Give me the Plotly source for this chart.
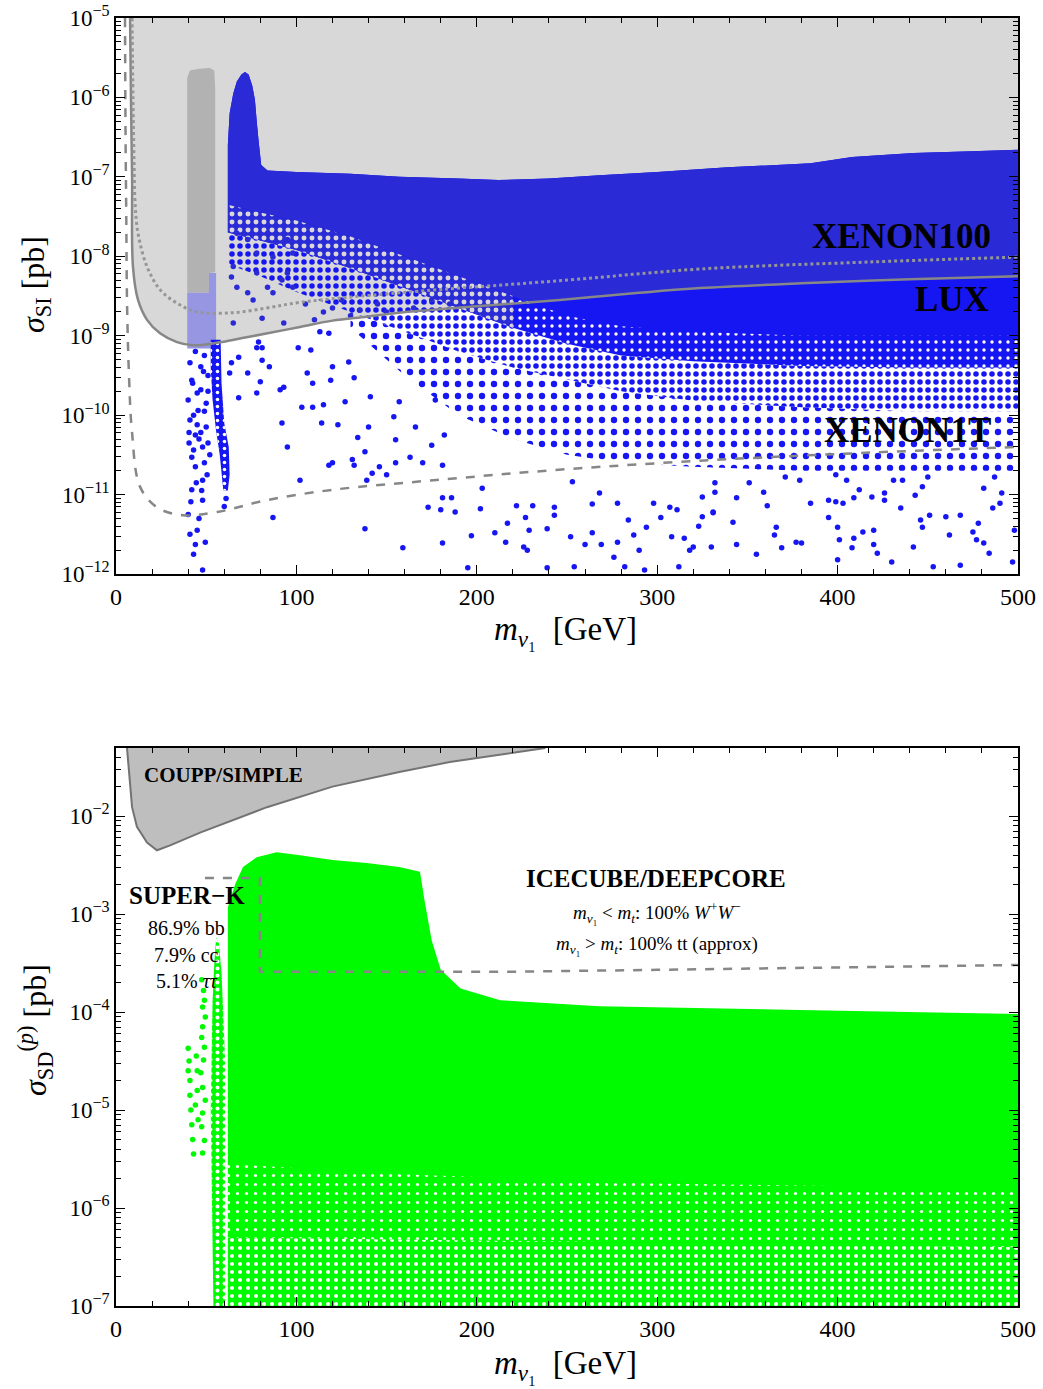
import plotly.graph_objects as go

# ---------------- data (x in GeV, cross sections as log10 of pb) ----------------
# top panel: limit curves
lux_x = [7.8, 8.3, 8.9, 9.4, 12.2, 17.2, 24.4, 33.8, 42.7, 56, 70, 84, 102, 120, 139, 157, 200, 246, 290, 324, 380, 440, 500]
lux_log = [-5.0, -6.0, -7.0, -8.13, -8.55, -8.80, -8.97, -9.08, -9.12, -9.09, -9.03, -8.97, -8.89, -8.81, -8.76, -8.71, -8.63, -8.55, -8.46, -8.40, -8.34, -8.29, -8.25]
x100_x = [8.9, 9.4, 10.0, 10.5, 12.2, 17.2, 24.4, 33.8, 44.9, 64.9, 83.7, 102, 157, 250, 324, 420, 500]
x100_log = [-5.0, -6.0, -6.8, -7.29, -7.71, -8.13, -8.42, -8.59, -8.70, -8.71, -8.65, -8.58, -8.46, -8.30, -8.16, -8.07, -8.01]
x1t_x = [5.0, 5.3, 5.7, 6.1, 7.2, 8.9, 13.3, 22.7, 37, 56, 83.7, 120, 176, 250, 335, 420, 500]
x1t_log = [-5.0, -6.5, -7.5, -8.55, -9.5, -10.22, -10.90, -11.16, -11.26, -11.22, -11.07, -10.94, -10.82, -10.68, -10.56, -10.47, -10.40]

# top panel: envelopes of the scan regions (dense -> sparse)
dense_top_x = [62, 62, 63, 65, 67, 69.5, 71.5, 73.5, 75.5, 77, 78, 79, 80.5, 84, 100, 130, 157, 190, 212, 240, 268, 300, 339, 385, 408, 442, 470, 500]
dense_top_log = [-7.35, -6.6, -6.2, -5.95, -5.8, -5.71, -5.68, -5.71, -5.85, -6.03, -6.3, -6.54, -6.85, -6.92, -6.94, -6.96, -7.0, -7.02, -7.04, -7.02, -6.98, -6.94, -6.88, -6.83, -6.75, -6.70, -6.68, -6.66]
dense_low_x = [62, 80, 100, 130, 160, 190, 220, 250, 280, 320, 380, 440, 500]
dense_low_log = [-7.35, -7.45, -7.55, -7.75, -8.0, -8.25, -8.5, -8.75, -8.88, -8.95, -9.0, -9.0, -9.0]
dark_low_x = [62, 80, 100, 130, 160, 190, 220, 228, 246, 290, 324, 380, 440, 500]
dark_low_log = [-7.35, -7.45, -7.55, -7.75, -8.0, -8.25, -8.5, -8.58, -8.55, -8.46, -8.40, -8.34, -8.29, -8.25]
mid1_low_x = [62, 80, 100, 130, 160, 190, 220, 250, 280, 320, 380, 440, 500]
mid1_low_log = [-7.7, -7.8, -7.92, -8.15, -8.4, -8.65, -8.9, -9.1, -9.25, -9.32, -9.38, -9.4, -9.4]
mid2_low_x = [62, 80, 100, 130, 160, 190, 220, 250, 280, 320, 380, 440, 500]
mid2_low_log = [-8.1, -8.25, -8.45, -8.7, -8.95, -9.2, -9.4, -9.55, -9.7, -9.82, -9.9, -9.95, -9.95]
sparse_top_x = [130, 160, 190, 220, 250, 280, 320, 380, 440, 500]
sparse_top_log = [-8.7, -8.95, -9.2, -9.4, -9.55, -9.7, -9.82, -9.9, -9.95, -9.95]
sparse_low_log = [-8.9, -9.5, -10.0, -10.3, -10.5, -10.6, -10.65, -10.7, -10.7, -10.7]

# top panel: low-mass columns
gray_col_x = [39.5, 39.5, 41, 46, 52, 54.5, 55, 55, 51.5, 51.5]
gray_col_log = [-8.46, -5.75, -5.66, -5.64, -5.63, -5.66, -5.9, -8.2, -8.21, -8.46]
lav_col_x = [39.5, 51.5, 51.5, 55.5, 55.5, 39.5]
lav_col_log = [-8.46, -8.46, -8.21, -8.21, -9.16, -9.16]
streak_x = [52.5, 58.0, 58.5, 60, 62.5, 63, 62, 59.5, 57.5, 55.5, 53.5, 52.5]
streak_log = [-9.05, -9.05, -9.6, -10.1, -10.4, -10.75, -10.95, -10.95, -10.5, -10.2, -9.8, -9.4]

# top panel: individual points
dark_pts_x = [65, 65, 64, 67, 73, 78, 84, 87, 95, 98, 92, 76, 81, 93, 87, 98, 78, 73, 67, 84, 95,
              105, 115, 125, 135, 145, 110, 130, 150, 165, 175, 185, 120]
dark_pts_log = [-8.84, -8.13, -8.26, -8.39, -8.46, -8.21, -8.39, -8.46, -8.21, -8.39, -8.30, -8.55, -8.78, -8.84, -8.01, -7.96, -7.96, -7.79, -7.71, -7.71, -7.79,
                -8.6, -8.7, -8.55, -8.68, -8.6, -8.8, -8.75, -8.7, -8.65, -8.55, -8.6, -8.65]
blue_pts_x = [79, 78, 81, 81, 68, 64, 63, 73, 80, 68, 78, 85, 91, 93, 92, 95, 87, 102, 103, 109, 108, 113, 118, 101, 106, 109, 114, 115, 119, 120,
              123, 118, 120, 127, 129, 132, 131, 132, 134, 139, 138, 140, 141, 138, 142, 146, 150, 155, 155, 157, 154, 159, 163, 166, 170, 175, 181, 181, 180, 181, 182, 177,
              173, 186, 188, 202, 203, 197, 195, 210, 216, 217, 222, 227, 229, 226, 228, 231, 239, 239, 243, 243, 252, 253, 254, 260, 264, 264, 268, 269,
              276, 278, 278, 282, 284, 287, 290, 293, 294, 298, 302, 308, 307, 311, 312, 315, 318, 320, 323, 325, 330, 331, 332,
              344, 355, 366, 365, 369, 377, 380, 385, 379, 371, 361, 351, 356, 359, 342, 332, 331, 325, 344, 395, 400, 401, 400, 409, 408, 414, 420, 420,
              422, 430, 426, 435, 419, 409, 403, 399, 395, 399, 405, 412, 426, 431, 436, 442, 443, 447, 450, 446, 447, 451, 453, 460, 462, 468, 468,
              475, 478, 477, 481, 484, 486, 481, 490, 491, 487, 497, 498]
blue_pts_log = [-9.08, -9.15, -9.15, -9.31, -9.27, -9.34, -9.47, -9.47, -9.58, -9.78, -9.72, -9.39, -9.68, -9.65, -10.10, -10.40, -11.29, -10.82, -9.90, -9.60, -9.18, -8.95, -8.97, -9.15, -9.47, -9.90, -10.10, -9.87, -9.56, -9.39,
                -10.12, -10.63, -10.60, -9.83, -9.33, -9.53, -10.56, -10.63, -10.28, -10.82, -10.46, -10.15, -9.77, -11.43, -10.73, -10.65, -10.75, -10.31, -10.60, -9.83, -10.02, -11.67, -10.53, -10.15, -10.60, -10.38, -10.63, -11.04, -11.19, -11.61, -10.25, -9.81,
                -11.16, -11.04, -11.22, -11.18, -10.92, -11.52, -11.92, -11.48, -11.60, -11.36, -11.14, -11.29, -11.45, -11.66, -11.70, -11.14, -11.43, -11.92, -11.16, -11.26, -11.53, -10.84, -11.91, -11.63, -11.12, -11.48, -10.98, -11.63,
                -11.79, -11.11, -11.60, -11.91, -11.32, -11.51, -11.70, -11.95, -11.41, -11.11, -11.29, -11.53, -11.16, -11.19, -11.91, -11.55, -11.70, -11.66, -11.40, -11.03, -11.66, -11.22, -10.97,
                -11.63, -11.75, -11.41, -11.51, -11.67, -11.60, -11.61, -11.11, -10.82, -10.78, -11.14, -10.85, -10.65, -10.97, -11.35, -10.85, -11.23, -11.28, -11.04, -11.29, -11.41, -11.57, -11.82, -11.55, -11.67, -11.47, -11.45, -11.63,
                -11.74, -11.85, -11.07, -11.17, -11.03, -11.04, -11.11, -11.09, -11.07, -10.75, -10.82, -10.94, -10.98, -10.82, -10.82, -11.66, -11.01, -10.90, -10.78, -11.32, -11.41, -11.26, -11.91, -11.28, -11.51, -11.26, -11.89,
                -11.47, -11.36, -11.57, -11.61, -11.74, -11.17, -10.92, -11.11, -10.98, -10.78, -11.85, -11.45]
col_pts_x = [41, 42, 40, 41, 40.5, 43, 42, 44, 42, 41.5, 45, 44, 48, 47, 45.5, 47, 48, 48, 48, 50, 47, 45, 44, 49, 51, 50, 46, 49, 51, 43, 60, 61,
             40, 46, 44.5, 41, 49.5, 43, 51, 48.5, 42.5, 45, 50.5, 47.5, 40.5, 44, 49, 52]
col_pts_log = [-9.34, -9.56, -9.81, -10.06, -10.22, -10.44, -10.53, -10.65, -10.94, -11.09, -11.45, -11.63, -11.95, -9.68, -9.94, -10.22, -10.40, -10.82, -11.07, -10.15, -9.39, -9.72, -9.2, -9.25, -9.5, -9.85, -10.3, -10.6, -10.35, -10.0, -11.15, -11.05,
               -11.25, -11.3, -10.85, -11.5, -11.6, -11.75, -9.7, -9.45, -9.6, -10.12, -10.75, -10.95, -10.35, -10.25, -9.95, -10.5]

# bottom panel
coupp_x = [6.1, 7.5, 8.9, 11.6, 17.2, 22.7, 30, 46.6, 83.7, 120, 157, 185, 238]
coupp_log = [-1.306, -1.6, -1.91, -2.11, -2.27, -2.35, -2.30, -2.17, -1.91, -1.70, -1.55, -1.45, -1.306]
ice_x = [49.3, 79.8, 79.8, 213, 300, 500]
ice_log = [-2.633, -2.633, -3.59, -3.59, -3.57, -3.52]
green_top_x = [62, 66, 70.4, 78, 89, 102, 120, 139, 157, 168.5, 171, 175, 180, 191, 213, 268, 379, 500]
green_top_log = [-2.93, -2.7, -2.52, -2.42, -2.37, -2.40, -2.45, -2.48, -2.52, -2.57, -2.86, -3.27, -3.57, -3.76, -3.88, -3.94, -3.98, -4.02]
green_solid_low_x = [62, 150, 300, 500]
green_solid_low_log = [-5.55, -5.65, -5.75, -5.8]
green_mid_low_x = [62, 500]
green_mid_low_log = [-6.3, -6.4]
green_col_x = [55.5, 57, 58.5, 60.5, 60.5, 54, 52.5, 53.5, 54.5]
green_col_log = [-3.24, -3.3, -3.6, -4.5, -7.0, -7.0, -5.0, -3.9, -3.5]
green_pts_x = [47.5, 48.5, 49, 48, 49.5, 48, 47.5, 49, 48.5, 47, 48, 49.5, 48, 47.5, 49, 48,
               40, 40.5, 40, 41, 41, 41.5, 42, 42.5, 43, 44.5, 45, 45, 44, 45.5]
green_pts_log = [-3.67, -3.78, -3.88, -3.95, -4.05, -4.15, -4.26, -4.36, -4.49, -4.62, -4.77, -4.90, -5.03, -5.17, -5.31, -5.44,
                 -4.37, -4.5, -4.6, -4.7, -4.85, -5.0, -5.15, -5.3, -5.45, -4.45, -4.6, -4.8, -4.95, -5.1]

# tick labels
top_exps = [-12, -11, -10, -9, -8, -7, -6, -5]
bot_exps = [-7, -6, -5, -4, -3, -2]
x_ticks = [0, 100, 200, 300, 400, 500]

# ---------------- styling ----------------
SERIF = "Liberation Serif"
DARK_BLUE = "rgb(42,42,214)"
BLUE = "rgb(22,22,242)"
GREEN = "rgb(0,250,0)"
GRAY_BG = "rgb(216,216,216)"
LINE_GRAY = "rgb(135,135,135)"
CLEAR = "rgba(255,255,255,0)"


def ex(v):
    return [10 ** a for a in v]


def band(xt, yt, xb, yb):
    return list(xt) + list(xb)[::-1], ex(list(yt) + list(yb)[::-1])


def cut(xs, ys, lo, hi):
    pairs = [(a, b) for a, b in zip(xs, ys) if lo <= a <= hi]
    return [p[0] for p in pairs], [p[1] for p in pairs]


fig = go.Figure()
TOP = ("x", "y")
BOT = ("x2", "y2")


def add_fill(x, y, color, ax, opacity=1.0, line=None):
    fig.add_trace(go.Scatter(x=x, y=y, fill="toself", fillcolor=color, mode="lines" if line else "none",
                             line=line if line else dict(width=0), opacity=opacity, hoverinfo="skip",
                             xaxis=ax[0], yaxis=ax[1], showlegend=False))


def add_pattern(x, y, fg, ax, size, solidity):
    fig.add_trace(go.Scatter(x=x, y=y, fill="toself", fillcolor=CLEAR, mode="none",
                             fillpattern=dict(shape=".", fgcolor=fg, bgcolor=CLEAR, fgopacity=1, size=size, solidity=solidity),
                             hoverinfo="skip", xaxis=ax[0], yaxis=ax[1], showlegend=False))


def add_pts(x, ylog, color, ax, size=5.5):
    fig.add_trace(go.Scatter(x=x, y=ex(ylog), mode="markers", marker=dict(color=color, size=size, line=dict(width=0)),
                             hoverinfo="skip", xaxis=ax[0], yaxis=ax[1], showlegend=False))


# --- top panel ---
gx = lux_x + [500, lux_x[0]]
gy = ex(lux_log + [-5.0, -5.0])
add_fill(gx, gy, GRAY_BG, TOP)
add_fill(gray_col_x, ex(gray_col_log), "rgb(178,178,178)", TOP)
add_fill(lav_col_x, ex(lav_col_log), "rgb(150,150,226)", TOP)

# sparse and medium bands: blue dots on the background
sx, sy = band(sparse_top_x, sparse_top_log, sparse_top_x, sparse_low_log)
add_pattern(sx, sy, BLUE, TOP, 12, 0.22)
m2x, m2y = band(mid1_low_x, mid1_low_log, mid2_low_x, mid2_low_log)
add_pattern(m2x, m2y, BLUE, TOP, 8, 0.38)
# dense band: solid base with background-coloured speckles
bx, by = band(dense_top_x, dense_top_log, mid1_low_x, mid1_low_log)
add_fill(bx, by, BLUE, TOP)
dx, dy = band(dense_top_x, dense_top_log, dark_low_x, dark_low_log)
add_fill(dx, dy, DARK_BLUE, TOP)
lx1, ly1 = cut(dense_low_x, dense_low_log, 62, 220)
lx2, ly2 = cut(mid1_low_x, mid1_low_log, 62, 220)
add_fill(*band(lx1, ly1, lx2, ly2), DARK_BLUE, TOP)
add_pattern(*band(lx1, ly1, lx2, ly2), GRAY_BG, TOP, 8, 0.3)
rx1, ry1 = cut(dense_low_x, dense_low_log, 220, 500)
rx2, ry2 = cut(mid1_low_x, mid1_low_log, 220, 500)
add_pattern(*band(rx1, ry1, rx2, ry2), "white", TOP, 8, 0.14)
add_fill(streak_x, ex(streak_log), BLUE, TOP)
add_pattern(streak_x, ex(streak_log), "white", TOP, 7, 0.2)

add_pts(dark_pts_x, dark_pts_log, DARK_BLUE, TOP)
add_pts(blue_pts_x, blue_pts_log, BLUE, TOP)
add_pts(col_pts_x, col_pts_log, BLUE, TOP)

fig.add_trace(go.Scatter(x=lux_x, y=ex(lux_log), mode="lines", line=dict(color=LINE_GRAY, width=2.5, shape="spline"),
                         hoverinfo="skip", showlegend=False))
fig.add_trace(go.Scatter(x=x100_x, y=ex(x100_log), mode="lines", line=dict(color="rgb(150,150,150)", width=3, dash="dot", shape="spline"),
                         hoverinfo="skip", showlegend=False))
fig.add_trace(go.Scatter(x=x1t_x, y=ex(x1t_log), mode="lines", line=dict(color=LINE_GRAY, width=2.5, dash="dash", shape="spline"),
                         hoverinfo="skip", showlegend=False))

# --- bottom panel ---
add_fill(coupp_x, ex(coupp_log), "rgb(190,190,190)", BOT, line=dict(color="rgb(115,115,115)", width=2))

gbx, gby = band([62] + green_top_x, [-7.0] + green_top_log, [62, 500], [-7.0, -7.0])
add_fill(gbx, gby, GREEN, BOT)
g2x, g2y = band(green_solid_low_x, green_solid_low_log, green_mid_low_x, green_mid_low_log)
add_pattern(g2x, g2y, "white", BOT, 9, 0.1)
g3x, g3y = band(green_mid_low_x, green_mid_low_log, [62, 500], [-7.0, -7.0])
add_pattern(g3x, g3y, "white", BOT, 8, 0.2)
add_fill(green_col_x, ex(green_col_log), GREEN, BOT)
add_pattern(green_col_x, ex(green_col_log), "white", BOT, 7, 0.25)
add_pts(green_pts_x, green_pts_log, GREEN, BOT)

fig.add_trace(go.Scatter(x=ice_x, y=ex(ice_log), mode="lines", line=dict(color=LINE_GRAY, width=2.5, dash="dash"),
                         hoverinfo="skip", xaxis="x2", yaxis="y2", showlegend=False))

# ---------------- axes ----------------
W, H = 1043, 1389
xd = [116 / W, 1018 / W]
top_dom = [1 - 574 / H, 1 - 18 / H]
bot_dom = [1 - 1306 / H, 1 - 748 / H]


def minors(exps):
    out = []
    for e in exps[:-1]:
        out += [m * 10 ** e for m in range(2, 10)]
    return out


common_x = dict(range=[0, 500], tickvals=x_ticks, ticktext=[str(v) for v in x_ticks], ticks="inside", ticklen=9,
                tickwidth=1.3, tickcolor="black", showline=True, linecolor="black", linewidth=1.5, mirror="allticks",
                showgrid=False, zeroline=False, automargin=False, tickfont=dict(family=SERIF, size=24, color="black"),
                minor=dict(dtick=20, tick0=0, ticks="inside", ticklen=5, tickcolor="black", tickwidth=1, showgrid=False),
                domain=xd)
common_y = dict(type="log", ticks="inside", ticklen=9, tickwidth=1.3, tickcolor="black", showline=True, linecolor="black",
                linewidth=1.5, mirror="allticks", showgrid=False, zeroline=False, automargin=False,
                tickfont=dict(family=SERIF, size=23, color="black"))

fig.update_layout(
    width=W, height=H, margin=dict(l=0, r=0, t=0, b=0, autoexpand=False), paper_bgcolor="white", plot_bgcolor="white",
    showlegend=False,
    xaxis=dict(common_x, anchor="y"),
    yaxis=dict(common_y, range=[-12, -5], domain=top_dom, anchor="x",
               tickvals=[10 ** e for e in top_exps], ticktext=[f"10<sup>−{abs(e)}</sup>" for e in top_exps],
               minor=dict(tickmode="array", tickvals=minors(top_exps), ticks="inside", ticklen=5, tickcolor="black", tickwidth=1, showgrid=False)),
    xaxis2=dict(common_x, anchor="y2"),
    yaxis2=dict(common_y, range=[-7, -1.306], domain=bot_dom, anchor="x2",
                tickvals=[10 ** e for e in bot_exps], ticktext=[f"10<sup>−{abs(e)}</sup>" for e in bot_exps],
                minor=dict(tickmode="array", tickvals=minors(bot_exps + [-1]), ticks="inside", ticklen=5, tickcolor="black", tickwidth=1, showgrid=False)),
)

ann = []


def lab(text, x, y, xref, yref, size, anchor="center", angle=0, bold=False):
    if bold:
        text = f"<b>{text}</b>"
    ann.append(dict(text=text, x=x, y=y, xref=xref, yref=yref, showarrow=False, xanchor=anchor, yanchor="middle",
                    textangle=angle, font=dict(family=SERIF, size=size, color="black")))


# axis titles
lab("<i>σ</i><sub>SI</sub> [pb]", 35 / W, 1 - 285 / H, "paper", "paper", 32, angle=-90)
lab("<i>σ</i><sub>SD</sub><sup>(<i>p</i>)</sup> [pb]", 35 / W, 1 - 1030 / H, "paper", "paper", 32, angle=-90)
lab("<i>m</i><sub><i>ν</i>₁</sub>  [GeV]", 565 / W, 1 - 632 / H, "paper", "paper", 33)
lab("<i>m</i><sub><i>ν</i>₁</sub>  [GeV]", 565 / W, 1 - 1365 / H, "paper", "paper", 33)

# top panel labels
lab("XENON100", 486, -7.745, "x", "y", 35, anchor="right", bold=True)
lab("LUX", 485, -8.55, "x", "y", 35, anchor="right", bold=True)
lab("XENON1T", 486, -10.19, "x", "y", 35, anchor="right", bold=True)

# bottom panel labels
lab("COUPP/SIMPLE", 14.4, -1.58, "x2", "y2", 21, anchor="left", bold=True)
lab("SUPER−K", 6.0, -2.806, "x2", "y2", 25, anchor="left", bold=True)
lab("86.9% bb", 39.1, -3.143, "x2", "y2", 20)
lab("7.9% cc", 39.1, -3.418, "x2", "y2", 20)
lab("5.1% <i>ττ</i>", 39.1, -3.684, "x2", "y2", 20)
lab("ICECUBE/DEEPCORE", 299.3, -2.633, "x2", "y2", 25, bold=True)
lab("<i>m</i><sub><i>ν</i>₁</sub> &lt; <i>m<sub>t</sub></i>: 100% <i>W</i><sup>+</sup><i>W</i><sup>−</sup>", 300, -2.98, "x2", "y2", 19)
lab("<i>m</i><sub><i>ν</i>₁</sub> &gt; <i>m<sub>t</sub></i>: 100% tt (approx)", 300, -3.316, "x2", "y2", 19)

fig.update_layout(annotations=ann)
fig.write_html("out.html")
